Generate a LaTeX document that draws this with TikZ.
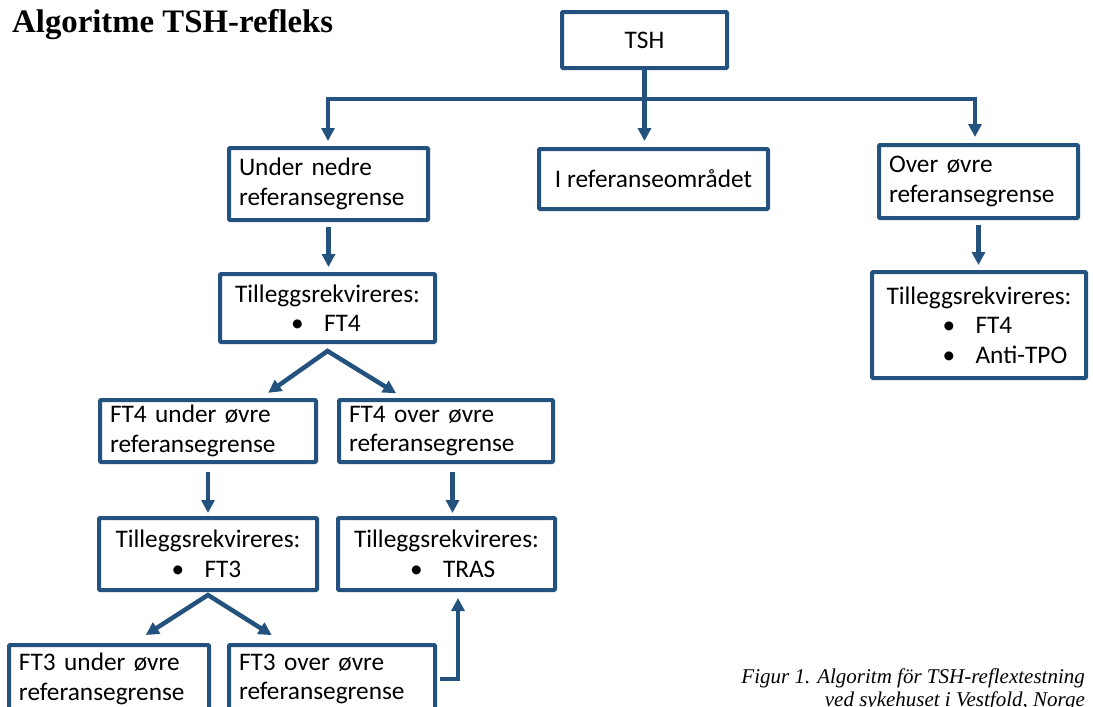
\documentclass[tikz,border=0pt]{standalone}
\usepackage{fontspec}
\setmainfont{Carlito}
\newfontfamily\serifhead{Liberation Serif}
\usepackage{tikz}
\usetikzlibrary{arrows.meta,positioning}
\definecolor{reflexblue}{RGB}{35,82,126}
\newcommand\bulitem[1]{\\\hspace*{56pt}\makebox[33pt][l]{•}#1}

\begin{document}
\begin{tikzpicture}[x=1pt,y=-1pt,
      box_c/.style={
         draw=reflexblue,
         line width=4pt,
         rounded corners=1pt,
         fill=white,
         inner sep=0pt,
         align=center,
         font=\fontsize{25.3}{29.5}\selectfont},
      box_t/.style={
         box_c,
         align=left},
      box_l/.style={
         box_c,
         align=left,
         inner xsep=10pt},
      arrow_blue/.style={
        -{Triangle[width=13pt,length=13pt]},
        line width=4.5pt,
        draw=reflexblue,
        },
      arrow_both/.style={
        {Triangle[width=13pt,length=13pt]}-{Triangle[width=13pt,length=13pt]},
        line width=4.5pt,
        draw=reflexblue,
        }
]
      \path[use as bounding box, clip] (0,0) rectangle (1093,707);

      %headings
      \node[font=\serifhead\bfseries\fontsize{32.8}{32.8}\selectfont, anchor=base west, inner sep=0pt] (title) at (12,32) {Algoritme TSH-refleks};
      \node[font=\serifhead\itshape\fontsize{21}{23}\selectfont, align=right, anchor=north east, inner sep=0pt] (caption) at (1085,669) {Figur 1. Algoritm för TSH-reflextestning\\ved sykehuset i Vestfold, Norge};

      %TSH
      \node[box_c, minimum width=165pt, minimum height=56pt] (tsh) at (644.5,40) {TSH};

      \node[box_l, text width=179pt, minimum height=72pt, below=76pt of tsh, xshift=-316pt] (lo) {Under nedre\\referansegrense};
      \node[box_c, minimum width=229pt, minimum height=60pt, below=77pt of tsh, xshift=9pt] (mid) {I referanseområdet};
      \node[box_l, text width=179pt, minimum height=73pt, below=73pt of tsh, xshift=334pt] (hi) {Over øvre\\referansegrense};

      \node[box_t, minimum width=215pt, minimum height=68pt, below=50pt of lo, xshift=-1pt] (tfa) {Tilleggsrekvireres:\bulitem{FT4}};
      \node[box_t, minimum width=214pt, minimum height=106pt, below=50pt of hi, xshift=0.5pt] (tfb) {Tilleggsrekvireres:\bulitem{FT4}\bulitem{Anti-TPO}};

      \node[box_l, text width=196pt, minimum height=62pt, below=54pt of tfa, xshift=-119.5pt] (fla) {FT4 under øvre\\referansegrense};
      \node[box_l, text width=194pt, minimum height=62pt, below=54pt of tfa, xshift=118.5pt] (flb) {FT4 over øvre\\referansegrense};

      \node[box_t, minimum width=218pt, minimum height=72pt, below=52pt of fla] (tta) {Tilleggsrekvireres:\bulitem{FT3}};
      \node[box_t, minimum width=217pt, minimum height=72pt, below=52pt of flb, xshift=0.5pt] (ttb) {Tilleggsrekvireres:\bulitem{TRAS}};

      \node[box_l, text width=180pt, minimum height=68pt, below=51pt of tta, xshift=-99pt] (ft3a) {FT3 under øvre\\referansegrense};
      \node[box_l, text width=186pt, minimum height=68pt, below=51pt of tta, xshift=124pt] (ft3b) {FT3 over øvre\\referansegrense};

      %split points
      \coordinate[below=29pt of tsh] (split_tsh);
      \coordinate[below=7pt of tfa] (split_tfa);
      \coordinate[below=3pt of tta] (split_tta);

      \draw[arrow_blue, shorten >=6pt] (tsh) -- (tsh |- mid.north);
      \draw[arrow_blue, shorten >=5pt] (split_tsh) -| ([xshift=-0.5pt]lo.north);
      \draw[arrow_blue, shorten >=6pt] (split_tsh) -| ([xshift=-3.5pt]hi.north);

    \foreach \i/\j/\s/\e in {% start node/end node/shorten start/shorten end
      lo/tfa/5/5,
      hi/tfb/5/5,
      fla/tta/8/3}
      \draw[arrow_blue, shorten <=\s pt, shorten >=\e pt] (\i.south) -- (\i.south |- \j.north);
      \draw[arrow_blue, shorten <=8pt, shorten >=3pt] ([xshift=6.5pt]flb.south) -- ([xshift=6.5pt]flb.south |- ttb.north);

    \foreach \a/\p/\b/\s in {
      fla.32.6/split_tfa/flb.142.7/9,
      ft3a.56.7/split_tta/ft3b.143.9/14.8}
      \draw[arrow_both, shorten <=\s pt, shorten >=\s pt] (\a) -- (\p) -- (\b);

      \draw[arrow_blue, shorten <=3pt, shorten >=6pt] (ft3b.east) -| ([xshift=11.5pt]ttb.south);
\end{tikzpicture}
\end{document}
